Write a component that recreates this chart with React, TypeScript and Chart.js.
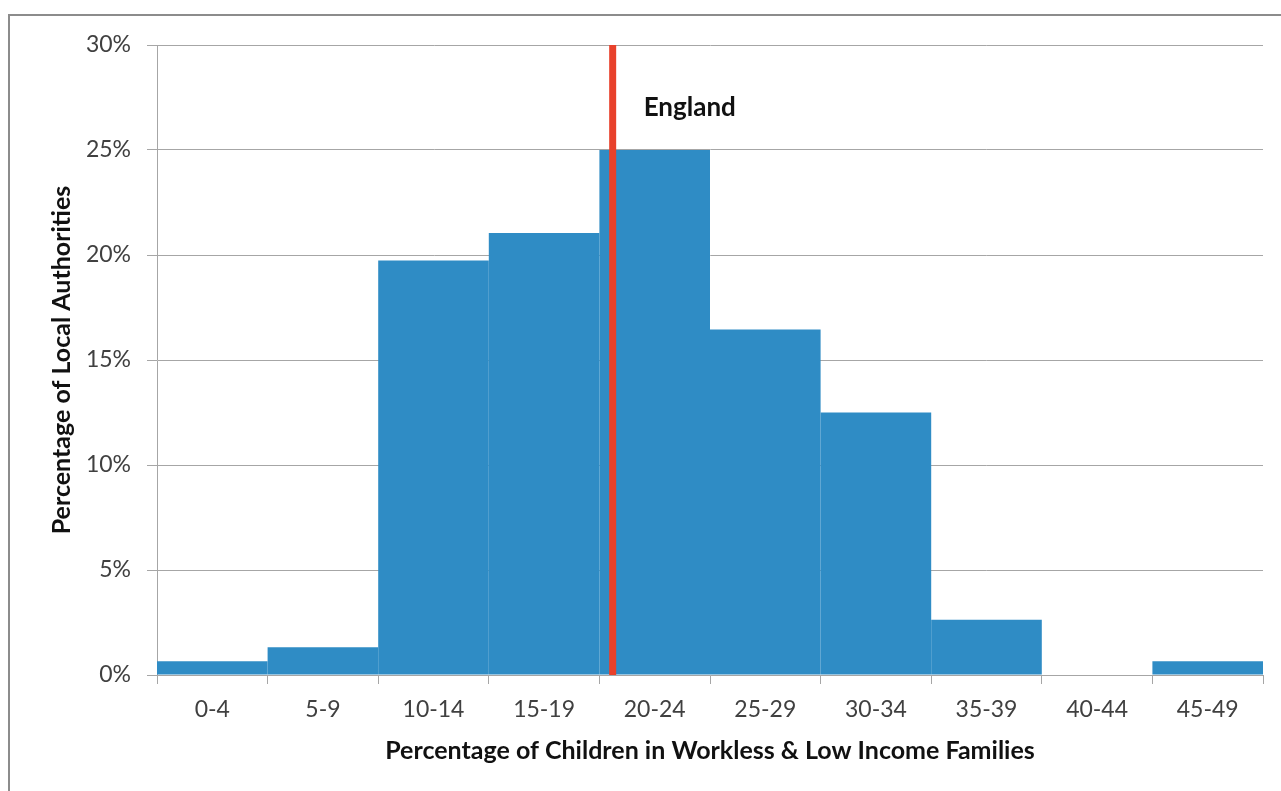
import React, { useEffect, useRef } from "react";
import { Chart, registerables } from "chart.js";

Chart.register(...registerables);

const categories = ["0-4", "5-9", "10-14", "15-19", "20-24", "25-29", "30-34", "35-39", "40-44", "45-49"];
const shareOfAuthorities = [0.66, 1.32, 19.74, 21.05, 25.0, 16.45, 12.5, 2.63, 0, 0.66];
const englandValue = 20.6;
const englandLabel = "England";
const yTicks = [0, 5, 10, 15, 20, 25, 30];

const FONT = "Lato, 'Open Sans', sans-serif";

const englandLabelPlugin = {
  id: "englandLabel",
  afterDatasetsDraw(chart: any) {
    const { ctx, scales } = chart;
    const xs = scales.x2;
    const ys = scales.y;
    if (!xs || !ys) return;
    const x = xs.getPixelForValue(englandValue) + 31;
    const y = ys.getPixelForValue(26.6);
    ctx.save();
    ctx.font = `bold 26px ${FONT}`;
    ctx.fillStyle = "#111111";
    ctx.textAlign = "left";
    ctx.textBaseline = "alphabetic";
    ctx.fillText(englandLabel, x, y);
    ctx.restore();
  },
};

export default function App() {
  const ref = useRef<HTMLCanvasElement | null>(null);

  useEffect(() => {
    if (!ref.current) return;
    const chart = new Chart(ref.current, {
      type: "bar",
      data: {
        labels: categories,
        datasets: [
          {
            type: "bar",
            label: "Local authorities",
            data: shareOfAuthorities,
            backgroundColor: "#2F8CC5",
            borderWidth: 0,
            inflateAmount: 0,
            categoryPercentage: 1,
            barPercentage: 1,
            grouped: false,
            xAxisID: "x",
            yAxisID: "y",
            order: 2,
          } as any,
          {
            type: "line",
            label: englandLabel,
            data: [
              { x: englandValue, y: 0 },
              { x: englandValue, y: yTicks[yTicks.length - 1] },
            ],
            borderColor: "#E8412B",
            borderWidth: 7,
            borderCapStyle: "butt",
            pointRadius: 0,
            xAxisID: "x2",
            yAxisID: "y",
            order: 1,
          } as any,
        ],
      },
      options: {
        responsive: false,
        animation: false,
        layout: { padding: { left: 0, top: 45, right: 18, bottom: 0 } },
        plugins: {
          legend: { display: false },
          tooltip: { enabled: false },
        },
        scales: {
          x: {
            type: "category",
            offset: true,
            grid: {
              offset: true,
              drawOnChartArea: false,
              drawTicks: true,
              tickLength: 9,
              color: "#a6a6a6",
              lineWidth: 1,
            },
            border: { color: "#a6a6a6", width: 1 },
            ticks: {
              color: "#404040",
              font: { family: FONT, size: 23 },
              padding: 12,
              maxRotation: 0,
            },
            title: {
              display: true,
              text: "Percentage of Children in Workless & Low Income Families",
              color: "#111111",
              font: { family: FONT, size: 25, weight: "bold" },
              padding: { top: 25, bottom: 25 },
            },
            afterFit: (s: any) => {
              s.height = 116;
            },
          },
          x2: {
            type: "linear",
            display: false,
            min: 0,
            max: 50,
            offset: false,
          },
          y: {
            min: 0,
            max: 30,
            afterBuildTicks: (s: any) => {
              s.ticks = yTicks.map((v) => ({ value: v }));
            },
            grid: {
              color: "#a6a6a6",
              lineWidth: 1,
              drawTicks: true,
              tickLength: 10,
            },
            border: { color: "#a6a6a6", width: 1 },
            ticks: {
              color: "#404040",
              font: { family: FONT, size: 23 },
              padding: 16,
              callback: (v: any) => `${v}%`,
            },
            title: {
              display: true,
              text: "Percentage of Local Authorities",
              color: "#111111",
              font: { family: FONT, size: 25, weight: "bold" },
              padding: { top: 47, bottom: 47 },
            },
            afterFit: (s: any) => {
              s.width = 157;
            },
          },
        },
      } as any,
      plugins: [englandLabelPlugin],
    });
    return () => chart.destroy();
  }, []);

  return (
    <div
      style={{
        position: "fixed",
        left: 0,
        top: 0,
        width: 1281,
        height: 791,
        overflow: "hidden",
        background: "#ffffff",
      }}
    >
      <div
        style={{
          position: "absolute",
          left: 8,
          top: 14,
          width: 1400,
          height: 900,
          borderLeft: "2px solid #8c8c8c",
          borderTop: "2px solid #8c8c8c",
        }}
      />
      <canvas
        ref={ref}
        width={1281}
        height={791}
        style={{ position: "absolute", left: 0, top: 0, display: "block" }}
      />
    </div>
  );
}
